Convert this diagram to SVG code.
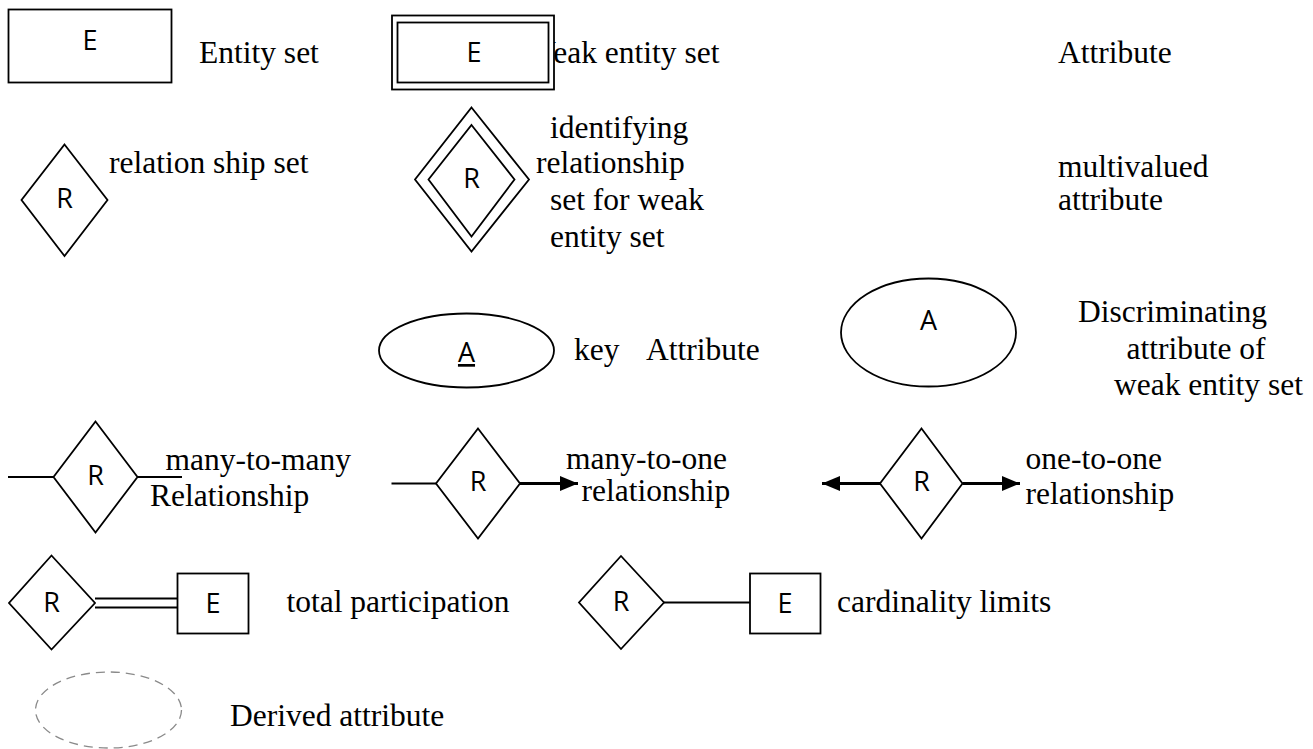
<svg xmlns="http://www.w3.org/2000/svg" width="1313" height="749" viewBox="0 0 1313 749">
  <style>
    .shape { fill: #fff; stroke: #000; stroke-width: 1.8; }
    .line { fill: none; stroke: #000; stroke-width: 1.8; }
    .thick { fill: none; stroke: #000; stroke-width: 3; }
    .dashed { fill: #fff; stroke: #8a8a8a; stroke-width: 1.3; stroke-dasharray: 9 6; }
    .sym { font-family: "Open Sans", "Liberation Sans", sans-serif; font-size: 27px; fill: #000; text-anchor: middle; }
    .cap { font-family: "Liberation Serif", "Times New Roman", serif; font-size: 31.5px; fill: #000; }
  </style>
  <defs>
    <marker id="head" markerWidth="6" markerHeight="5" refX="6" refY="2.5" orient="auto" markerUnits="strokeWidth">
      <path d="M0,0 L6,2.5 L0,5 Z" fill="#000"/>
    </marker>
  </defs>

  <rect width="1313" height="749" fill="#fff"/>

  <!-- connectors -->
  <g id="connectors">
    <line class="line" x1="8" y1="477" x2="53.5" y2="477"/>
    <line class="line" x1="137.5" y1="477" x2="182" y2="477"/>
    <line class="line" x1="391.5" y1="483.5" x2="436" y2="483.5"/>
    <line class="thick" x1="520" y1="483.5" x2="578" y2="483.5" marker-end="url(#head)"/>
    <line class="thick" x1="880" y1="483.5" x2="822" y2="483.5" marker-end="url(#head)"/>
    <line class="thick" x1="962.5" y1="483.5" x2="1020" y2="483.5" marker-end="url(#head)"/>
    <line class="line" x1="95" y1="598.5" x2="177.5" y2="598.5"/>
    <line class="line" x1="95" y1="607.5" x2="177.5" y2="607.5"/>
    <line class="line" x1="664" y1="602.5" x2="750" y2="602.5"/>
  </g>

  <!-- entity set -->
  <g id="entity-set">
    <rect class="shape" x="8.5" y="9.5" width="163" height="73"/>
    <text class="sym" x="90" y="49.5">E</text>
    <text class="cap" x="199" y="63">Entity set</text>
  </g>

  <!-- weak entity set: caption runs under the double box -->
  <g id="weak-entity-set">
    <text class="cap" x="526" y="63">Weak entity set</text>
    <rect class="shape" x="392" y="15.5" width="162" height="74"/>
    <rect class="shape" x="397.5" y="22.5" width="151" height="60"/>
    <text class="sym" x="474" y="62">E</text>
  </g>

  <g id="attribute">
    <text class="cap" x="1058" y="63">Attribute</text>
  </g>

  <!-- relationship set -->
  <g id="relationship-set">
    <polygon class="shape" points="64.5,144.5 107.5,200 64.5,256 21.5,200"/>
    <text class="sym" x="64.5" y="208">R</text>
    <text class="cap" x="109" y="173">relation ship set</text>
  </g>

  <!-- identifying relationship set -->
  <g id="identifying-relationship">
    <polygon class="shape" points="471.5,107.5 529,179.5 471.5,251.5 415,179.5"/>
    <polygon class="shape" points="471.5,125 514.5,179.5 471.5,236.5 428.5,179.5"/>
    <text class="sym" x="471.5" y="188">R</text>
    <text class="cap" x="550" y="137.5">identifying</text>
    <text class="cap" x="536" y="173">relationship</text>
    <text class="cap" x="550" y="210">set for weak</text>
    <text class="cap" x="550" y="247">entity set</text>
  </g>

  <g id="multivalued-attribute">
    <text class="cap" x="1058" y="177">multivalued</text>
    <text class="cap" x="1058" y="210">attribute</text>
  </g>

  <!-- key attribute -->
  <g id="key-attribute">
    <ellipse class="shape" cx="466.5" cy="350.5" rx="87.5" ry="37"/>
    <text class="sym" x="466.5" y="362" text-decoration="underline">A</text>
    <text class="cap" x="574" y="359.5">key</text>
    <text class="cap" x="646" y="359.5">Attribute</text>
  </g>

  <!-- discriminating attribute -->
  <g id="discriminating-attribute">
    <ellipse class="shape" cx="928.5" cy="332.5" rx="87.5" ry="54"/>
    <text class="sym" x="928.5" y="329.5">A</text>
    <text class="cap" x="1078" y="322">Discriminating</text>
    <text class="cap" x="1126.5" y="359">attribute of</text>
    <text class="cap" x="1114" y="395">weak entity set</text>
  </g>

  <!-- many-to-many -->
  <g id="many-to-many">
    <polygon class="shape" points="95.5,421.5 137.5,477 95.5,532.5 53.5,477"/>
    <text class="sym" x="95.5" y="485">R</text>
    <text class="cap" x="165.5" y="470">many-to-many</text>
    <text class="cap" x="150" y="506">Relationship</text>
  </g>

  <!-- many-to-one -->
  <g id="many-to-one">
    <polygon class="shape" points="478,428.5 520,483.5 478,538.5 436,483.5"/>
    <text class="sym" x="478" y="491">R</text>
    <text class="cap" x="566" y="468.5">many-to-one</text>
    <text class="cap" x="581.5" y="500.5">relationship</text>
  </g>

  <!-- one-to-one -->
  <g id="one-to-one">
    <polygon class="shape" points="921.5,428.5 962.5,483.5 921.5,538.5 880,483.5"/>
    <text class="sym" x="921.5" y="491">R</text>
    <text class="cap" x="1025.5" y="468.5">one-to-one</text>
    <text class="cap" x="1025.5" y="503.5">relationship</text>
  </g>

  <!-- total participation -->
  <g id="total-participation">
    <polygon class="shape" points="51.5,555.5 95,603 51.5,649.5 9,603"/>
    <text class="sym" x="51.5" y="611.5">R</text>
    <rect class="shape" x="177.5" y="573.5" width="71" height="60"/>
    <text class="sym" x="213" y="612.5">E</text>
    <text class="cap" x="286.5" y="612">total participation</text>
  </g>

  <!-- cardinality limits -->
  <g id="cardinality-limits">
    <polygon class="shape" points="621,556 664,602.5 621,649 579,602.5"/>
    <text class="sym" x="621" y="611">R</text>
    <rect class="shape" x="750" y="573.5" width="70.5" height="60"/>
    <text class="sym" x="785" y="612.5">E</text>
    <text class="cap" x="837" y="612">cardinality limits</text>
  </g>

  <!-- derived attribute -->
  <g id="derived-attribute">
    <ellipse class="dashed" cx="108.5" cy="710" rx="73" ry="38"/>
    <text class="cap" x="230" y="726">Derived attribute</text>
  </g>
</svg>
